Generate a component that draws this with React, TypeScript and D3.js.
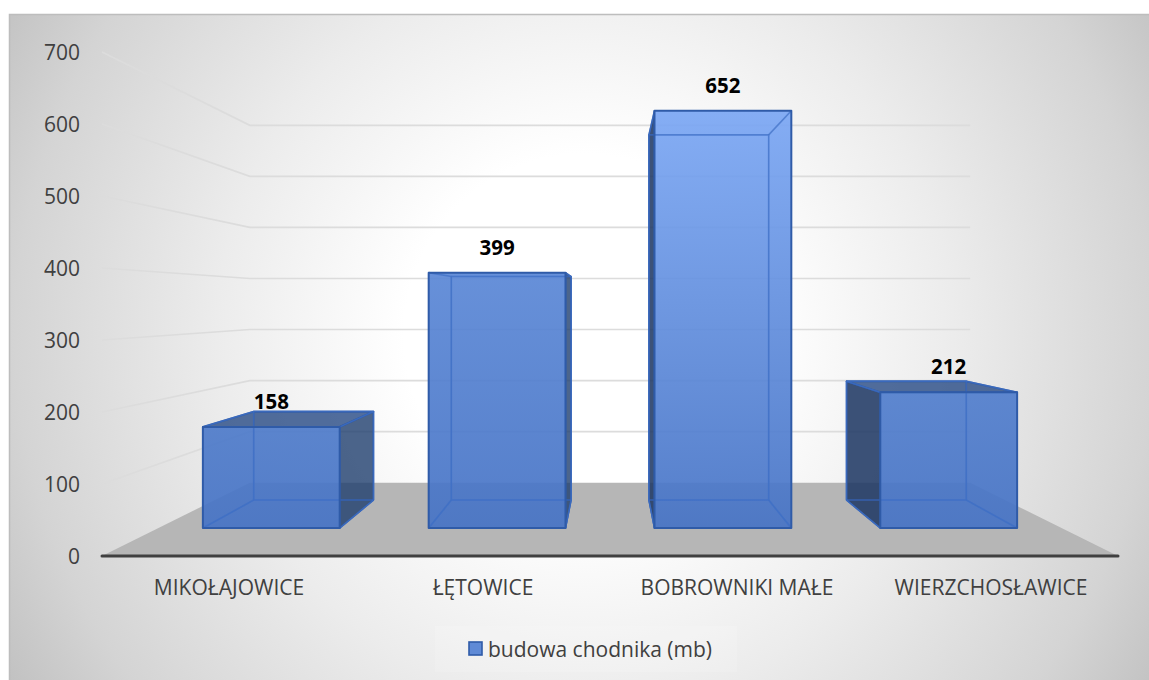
import React from "react";
import * as d3 from "d3";

const categories = ["MIKOŁAJOWICE", "ŁĘTOWICE", "BOBROWNIKI MAŁE", "WIERZCHOSŁAWICE"];
const values = [158, 399, 652, 212];
const ticks = [0, 100, 200, 300, 400, 500, 600, 700];
const seriesName = "budowa chodnika (mb)";

const W = 1149;
const H = 680;
const vanish = { x: 610, y: 304 };
const yScale = d3.scaleLinear().domain([0, 700]).range([556, 52]);
const xScale = d3.scaleBand<string>().domain(categories).range([102, 1118]).paddingInner(0.394).paddingOuter(0.197);
// depth scale: 0 = front edge of the floor, 1 = back wall
const depth = d3.scaleLinear().domain([0, 1]).range([1, 0.709]);
const project = (x: number, v: number, z: number): [number, number] => {
  const s = depth(z);
  return [vanish.x + (x - vanish.x) * s, vanish.y + (yScale(v) - vanish.y) * s];
};
const zFront = depth.invert(0.889);
const zBack = depth.invert(0.778);
const topColor = d3.scaleLinear<string>().domain([158, 399, 652]).range(["#4e7bca", "#5a87d6", "#7ba7f4"]);
const line = d3.line();
const face = (pts: [number, number][]) => line(pts)! + "Z";
const FONT = "'Open Sans', sans-serif";
const EDGE = "#2f5ba8";
const INNER = "#3f6fc4";

function Bar({ name, value, index }: { name: string; value: number; index: number }) {
  const x0 = xScale(name)!;
  const x1 = x0 + xScale.bandwidth();
  const fb = project(x0, 0, zFront), fbr = project(x1, 0, zFront);
  const ft = project(x0, value, zFront), ftr = project(x1, value, zFront);
  const bb = project(x0, 0, zBack), bbr = project(x1, 0, zBack);
  const bt = project(x0, value, zBack), btr = project(x1, value, zBack);
  const leftOut = bb[0] < fb[0];
  const rightOut = bbr[0] > fbr[0];
  const topOut = bt[1] < ft[1];
  return (
    <g strokeLinejoin="round">
      <linearGradient id={`barFill${index}`} x1={0} x2={0} y1={0} y2={1}>
        <stop offset="0" stopColor={topColor(value)} />
        <stop offset="1" stopColor="#4673c5" />
      </linearGradient>
      <g fill="none" stroke={INNER} strokeWidth={1.4} strokeOpacity={0.9}>
        <path d={face([bb, bbr, btr, bt])} />
        <path d={line([fb, bb])!} />
        <path d={line([fbr, bbr])!} />
      </g>
      {leftOut && <path d={face([fb, bb, bt, ft])} fill="#1f3864" fillOpacity={0.87} stroke={EDGE} strokeWidth={1.4} />}
      {rightOut && <path d={face([fbr, bbr, btr, ftr])} fill="#1f3f6e" fillOpacity={0.8} stroke={EDGE} strokeWidth={1.4} />}
      {topOut && <path d={face([ft, ftr, btr, bt])} fill="#274a85" fillOpacity={0.8} stroke={EDGE} strokeWidth={1.8} />}
      <path d={face([ft, ftr, fbr, fb])} fill={`url(#barFill${index})`} fillOpacity={0.92} stroke="none" />
      <g fill="none" stroke={INNER} strokeWidth={1.6} strokeOpacity={0.7}>
        <path d={face([bb, bbr, btr, bt])} />
        <path d={line([fb, bb])!} />
        <path d={line([fbr, bbr])!} />
        <path d={line([ft, bt])!} />
        <path d={line([ftr, btr])!} />
      </g>
      <path d={face([ft, ftr, fbr, fb])} fill="none" stroke={EDGE} strokeWidth={2} />
    </g>
  );
}

export default function App() {
  const backLeft = project(102, 0, 1);
  const backRight = project(1118, 0, 1);
  return (
    <svg width={W} height={H} viewBox={`0 0 ${W} ${H}`} style={{ position: "absolute", left: 0, top: 0, display: "block" }}>
      <defs>
        <radialGradient id="bg" gradientUnits="userSpaceOnUse" cx={585} cy={335} r={670}>
          <stop offset="0" stopColor="#ffffff" />
          <stop offset="0.27" stopColor="#ffffff" />
          <stop offset="0.55" stopColor="#ececec" />
          <stop offset="0.85" stopColor="#d4d4d4" />
          <stop offset="1" stopColor="#c2c2c2" />
        </radialGradient>
      </defs>

      <rect x={0} y={0} width={W} height={H} fill="#ffffff" />
      <rect x={9} y={14} width={W - 9} height={H - 14} fill="url(#bg)" />
      <path d={`M9.5,${H}V14.5H${W}`} fill="none" stroke="#bdbdbd" strokeWidth={1.5} />

      {/* floor */}
      <path d={face([project(102, 0, 0), project(1118, 0, 0), backRight, backLeft])} fill="#b6b6b6" />

      {/* gridlines */}
      {ticks.filter((t) => t > 0).map((t) => {
        const a = project(102, t, 0);
        const b = project(102, t, 1);
        const c = project(1118, t, 1);
        return <path key={t} d={line([a, b, c])!} fill="none" stroke="#dcdcdc" strokeWidth={1.7} />;
      })}

      {/* legend box */}
      <rect x={435} y={626} width={302} height={46} fill="#ffffff" fillOpacity={0.14} />

      {/* bars */}
      {categories.map((c, i) => (
        <Bar key={c} name={c} value={values[i]} index={i} />
      ))}

      {/* axis */}
      <path d={line([project(102, 0, 0), project(1118, 0, 0)])!} stroke="#404040" strokeWidth={3} strokeLinecap="round" fill="none" />

      {/* tick labels */}
      {ticks.map((t) => (
        <text key={t} x={80} y={yScale(t)} dy="0.36em" textAnchor="end" fontFamily={FONT} fontSize={21} fill="#404040">
          {t}
        </text>
      ))}

      {/* category labels */}
      {categories.map((c) => (
        <text key={c} x={xScale(c)! + xScale.bandwidth() / 2} y={587} dy="0.36em" textAnchor="middle" fontFamily={FONT} fontSize={21} fill="#404040">
          {c}
        </text>
      ))}

      {/* data labels */}
      {categories.map((c, i) => {
        const p = project(xScale(c)! + xScale.bandwidth() / 2, values[i], zFront);
        return (
          <text key={c} x={p[0]} y={p[1] - 25.5} dy="0.36em" textAnchor="middle" fontFamily={FONT} fontWeight={700} fontSize={20.5} fill="#000000">
            {values[i]}
          </text>
        );
      })}

      {/* legend */}
      <rect x={469} y={642} width={13} height={13} fill="#5f8ad6" stroke={EDGE} strokeWidth={1.6} />
      <text x={488} y={649} dy="0.36em" fontFamily={FONT} fontSize={21} fill="#404040">
        {seriesName}
      </text>
    </svg>
  );
}
